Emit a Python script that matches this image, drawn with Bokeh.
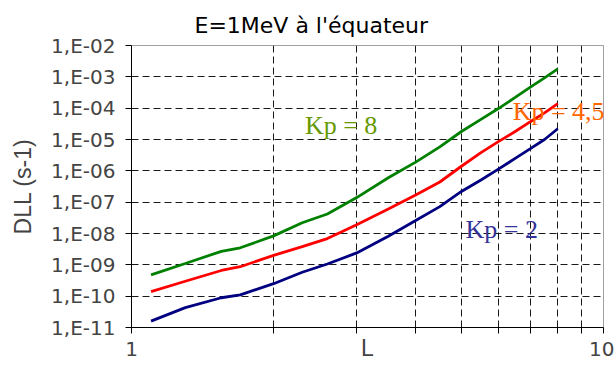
from bokeh.plotting import figure
from bokeh.models import (Range1d, FixedTicker, CustomJSTickFormatter, Label, ColumnDataSource)
from bokeh.embed import file_html
from bokeh.resources import INLINE

# Radial diffusion coefficient DLL (s-1) versus L, electrons E = 1 MeV, equatorial
L_values = [1.1, 1.3, 1.55, 1.7, 2.0, 2.3, 2.6, 3.0, 3.5, 4.0, 4.5, 5.0, 5.5, 6.0, 6.5, 7.0, 7.5, 8.0]

dll_kp8 = [4.8e-10, 1.1e-9, 2.7e-9, 3.5e-9, 8.4e-9, 2.2e-8, 4.2e-8, 1.4e-7, 6.0e-7, 1.9e-6,
           5.8e-6, 1.8e-5, 4.4e-5, 9.9e-5, 2.2e-4, 4.7e-4, 9.3e-4, 1.8e-3]
dll_kp45 = [1.4e-10, 3.0e-10, 6.6e-10, 8.7e-10, 2.0e-9, 3.8e-9, 6.9e-9, 1.9e-8, 6.0e-8, 1.7e-7,
            4.4e-7, 1.4e-6, 3.8e-6, 8.7e-6, 1.8e-5, 3.7e-5, 7.1e-5, 1.4e-4]
dll_kp2 = [1.6e-11, 4.3e-11, 8.9e-11, 1.1e-10, 2.5e-10, 5.8e-10, 1.06e-9, 2.4e-9, 8.2e-9, 2.6e-8,
           7.2e-8, 2.2e-7, 5.1e-7, 1.15e-6, 2.5e-6, 5.1e-6, 1.0e-5, 2.2e-5]

series_names = ["Kp = 8", "Kp = 4,5", "Kp = 2"]

source = ColumnDataSource(data=dict(L=L_values, kp8=dll_kp8, kp45=dll_kp45, kp2=dll_kp2))

p = figure(width=614, height=369, x_axis_type="log", y_axis_type="log",
           x_range=Range1d(1, 10), y_range=Range1d(1e-11, 1e-2),
           output_backend="svg", toolbar_location=None,
           min_border_left=131, min_border_right=11, min_border_top=45, min_border_bottom=42)

p.background_fill_color = "white"
p.border_fill_color = "white"
p.outline_line_color = "#a0a0a0"
p.outline_line_width = 1

# title
p.title.text = "E=1MeV à l'équateur"
p.title.align = "left"
p.title.offset = 63
p.title.standoff = 15
p.title.text_font = "DejaVu Sans"
p.title.text_font_size = "22px"
p.title.text_font_style = "normal"
p.title.text_color = "#000000"

# x axis
xa = p.xaxis[0]
xa.ticker = FixedTicker(ticks=[1, 10], minor_ticks=[2, 3, 4, 5, 6, 7, 8, 9])
xa.formatter = CustomJSTickFormatter(code="return tick.toFixed(0);")
xa.axis_label = "L"
xa.axis_label_text_font = "Liberation Sans"
xa.axis_label_text_font_size = "23px"
xa.axis_label_text_font_style = "normal"
xa.axis_label_standoff = -24
xa.major_label_text_font = "DejaVu Sans"
xa.major_label_text_font_size = "20px"
xa.major_label_standoff = 8
xa.major_tick_out = 6
xa.major_tick_in = 0
xa.minor_tick_out = 6
xa.minor_tick_in = 0
xa.axis_line_color = "black"

# y axis
ya = p.yaxis[0]
ya.ticker = FixedTicker(ticks=[10.0 ** k for k in range(-11, -1)], minor_ticks=[])
ya.formatter = CustomJSTickFormatter(code="""
const e = Math.round(Math.log10(tick));
const a = Math.abs(e);
return "1,E" + (e < 0 ? "-" : "+") + (a < 10 ? "0" + a : "" + a);
""")
ya.axis_label = "DLL (s-1)"
ya.axis_label_text_font = "Liberation Sans"
ya.axis_label_text_font_size = "23px"
ya.axis_label_text_font_style = "normal"
ya.axis_label_standoff = 12
ya.major_label_text_font = "DejaVu Sans"
ya.major_label_text_font_size = "20px"
ya.major_label_standoff = 10
ya.major_tick_out = 6
ya.major_tick_in = 0
ya.minor_tick_out = 0
ya.minor_tick_in = 0
ya.axis_line_color = "black"

# dashed grid
p.xgrid.ticker = FixedTicker(ticks=[2, 3, 4, 5, 6, 7, 8, 9])
p.ygrid.ticker = FixedTicker(ticks=[10.0 ** k for k in range(-10, -2)])
for g in (p.xgrid[0], p.ygrid[0]):
    g.grid_line_color = "black"
    g.grid_line_dash = "7 4"
    g.grid_line_width = 1
    g.grid_line_alpha = 0.9

# curves
p.line("L", "kp8", source=source, line_color="#008000", line_width=2.8)
p.line("L", "kp45", source=source, line_color="#ff0000", line_width=2.8)
p.line("L", "kp2", source=source, line_color="#000080", line_width=2.8)

# curve labels
label_style = dict(text_font="Liberation Serif", text_font_size="26px",
                   text_baseline="alphabetic", text_align="left")
p.add_layout(Label(x=2.33, y=2.8e-5, text=series_names[0], text_color="#669900", **label_style))
p.add_layout(Label(x=6.42, y=7.8e-5, text=series_names[1], text_color="#ff6600", **label_style))
p.add_layout(Label(x=5.10, y=1.34e-8, text=series_names[2], text_color="#333399", **label_style))

open("out.html", "w").write(file_html(p, INLINE))
